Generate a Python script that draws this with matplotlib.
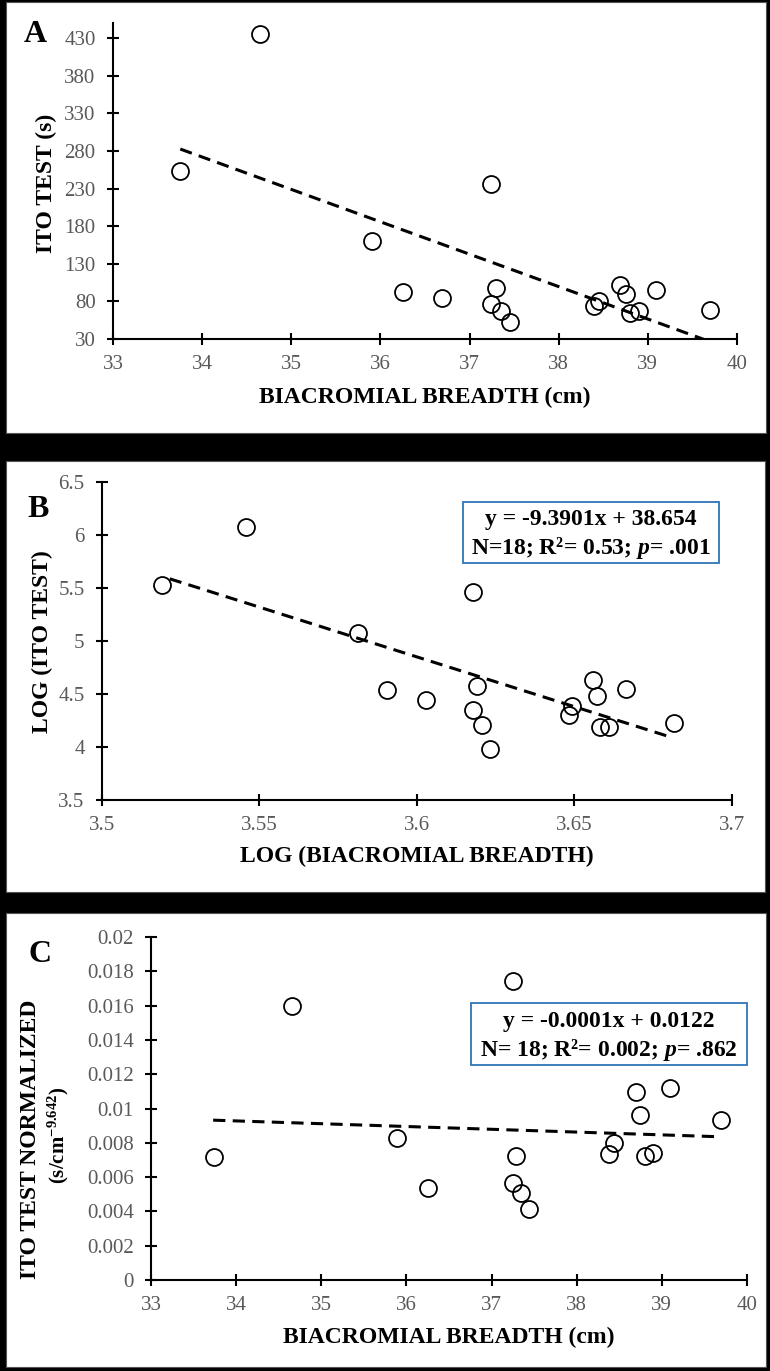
import numpy as np
import matplotlib
matplotlib.use("Agg")
import matplotlib.pyplot as plt
from matplotlib.patches import Rectangle
from matplotlib.ticker import FuncFormatter

plt.rcParams['font.family'] = ['Liberation Serif', 'DejaVu Serif']
plt.rcParams['mathtext.fontset'] = 'custom'
plt.rcParams['mathtext.rm'] = 'Liberation Serif:bold'
plt.rcParams['mathtext.bf'] = 'Liberation Serif:bold'
plt.rcParams['mathtext.it'] = 'Liberation Serif:italic:bold'

# ---------------- data ----------------
# Panel A: biacromial breadth (cm) vs ITO test (s)
breadth_a = [34.65, 33.755, 37.245, 35.90, 36.25, 36.69, 37.30, 37.245, 37.355,
             37.45, 38.40, 38.45, 38.69, 38.75, 38.80, 38.90, 39.09, 39.70]
ito_a = [435.7, 253.6, 236.0, 160.8, 92.8, 84.4, 97.2, 76.9, 66.7,
         53.0, 74.2, 80.0, 102.0, 90.0, 64.5, 66.7, 94.5, 68.0]

# Panel B: log(biacromial breadth) vs log(ITO test)
log_breadth_b = [3.5457, 3.5192, 3.6177, 3.5812, 3.5904, 3.6030, 3.6190, 3.6177, 3.6205,
                 3.6231, 3.6481, 3.6493, 3.6559, 3.6571, 3.6582, 3.6610, 3.6662, 3.6816]
log_ito_b = [6.072, 5.524, 5.458, 5.074, 4.539, 4.444, 4.576, 4.350, 4.208,
             3.978, 4.302, 4.387, 4.633, 4.485, 4.192, 4.192, 4.545, 4.223]
slope_b, intercept_b = -9.3901, 38.654
trend_b_x = [3.5215, 3.6805]

# Panel C: biacromial breadth (cm) vs normalized ITO test
breadth_c = [34.656, 33.744, 37.247, 35.891, 36.249, 37.287, 37.247, 37.345, 37.443,
             38.384, 38.441, 38.701, 38.747, 38.799, 38.892, 39.094, 39.694]
ito_norm_c = [0.01596, 0.00718, 0.01742, 0.00829, 0.00534, 0.00722, 0.00567, 0.00509, 0.00414,
              0.00732, 0.00800, 0.01095, 0.00961, 0.00722, 0.00738, 0.01120, 0.00932]
# trend line as drawn (start / end values)
trend_c_x = [33.73, 39.69]
trend_c_y = [0.00932, 0.00835]

xticks_cm = [33, 34, 35, 36, 37, 38, 39, 40]
yticks_a = [30, 80, 130, 180, 230, 280, 330, 380, 430]
xticks_b = [3.5, 3.55, 3.6, 3.65, 3.7]
yticks_b = [3.5, 4, 4.5, 5, 5.5, 6, 6.5]
yticks_c = [0, 0.002, 0.004, 0.006, 0.008, 0.01, 0.012, 0.014, 0.016, 0.018, 0.02]

# ---------------- figure ----------------
W, H = 770, 1371
fig = plt.figure(figsize=(W / 100, H / 100), dpi=100, facecolor='black')


def fx(x):
    return x / W


def fy(y):
    return 1 - y / H


def axes_px(l, t, r, b):
    return fig.add_axes([fx(l), fy(b), (r - l) / W, (b - t) / H])


# white panels
for (l, t, r, b) in [(6, 2, 766, 433), (6, 461, 765, 892), (6, 913, 766, 1367)]:
    fig.patches.append(Rectangle((fx(l), fy(b)), (r - l) / W, (b - t) / H,
                                 transform=fig.transFigure, facecolor='white',
                                 edgecolor='#555555', linewidth=0.8, zorder=-5))

TICK_GRAY = '#595959'
fmt = FuncFormatter(lambda v, p: f"{v:g}")


def style(ax):
    ax.set_facecolor('none')
    ax.set_zorder(2)
    for s in ['top', 'right']:
        ax.spines[s].set_visible(False)
    for s in ['left', 'bottom']:
        ax.spines[s].set_linewidth(1.5)
        ax.spines[s].set_color('black')
    ax.tick_params(direction='inout', length=8, width=1.5, color='black',
                   labelcolor=TICK_GRAY, labelsize=15)
    ax.tick_params(axis='y', pad=8.5)
    ax.tick_params(axis='x', pad=7.5)
    ax.xaxis.set_major_formatter(fmt)
    ax.yaxis.set_major_formatter(fmt)


mk = dict(linestyle='none', marker='o', markersize=12.2, markerfacecolor='none',
          markeredgecolor='black', markeredgewidth=1.3, zorder=3, clip_on=False)
dash = dict(color='black', linewidth=2.2, linestyle=(0, (4, 2.4)), zorder=2)

# ---- Panel A ----
axA = axes_px(113, 23, 737, 339)
style(axA)
axA.plot(breadth_a, ito_a, **mk)
pa = np.polyfit(breadth_a, ito_a, 1)
xa = np.array([min(breadth_a), max(breadth_a)])
axA.plot(xa, np.polyval(pa, xa), **dash)
axA.set_xlim(33, 40)
axA.set_ylim(30, 450)
axA.set_xticks(xticks_cm)
axA.set_yticks(yticks_a)

# ---- Panel B ----
axB = axes_px(102, 482, 732, 800)
style(axB)
axB.plot(log_breadth_b, log_ito_b, **mk)
xb = np.array(trend_b_x)
axB.plot(xb, slope_b * xb + intercept_b, **dash)
axB.set_xlim(3.5, 3.7)
axB.set_ylim(3.5, 6.5)
axB.set_xticks(xticks_b)
axB.set_yticks(yticks_b)

# ---- Panel C ----
axC = axes_px(151, 937, 747, 1280)
style(axC)
axC.plot(breadth_c, ito_norm_c, **mk)
axC.plot(trend_c_x, trend_c_y, **dash)
axC.set_xlim(33, 40)
axC.set_ylim(0, 0.02)
axC.set_xticks(xticks_cm)
axC.set_yticks(yticks_c)

# ---------------- texts ----------------
LBL = dict(fontsize=17, fontweight='bold', color='black')

fig.text(fx(425), fy(403), 'BIACROMIAL BREADTH (cm)', ha='center', va='baseline', **LBL)
fig.text(fx(417), fy(862), 'LOG (BIACROMIAL BREADTH)', ha='center', va='baseline', **LBL)
fig.text(fx(449), fy(1343), 'BIACROMIAL BREADTH (cm)', ha='center', va='baseline', **LBL)

fig.text(fx(46), fy(183), 'ITO TEST (s)', rotation=90, ha='center', va='center', **LBL)
fig.text(fx(42), fy(642), 'LOG (ITO TEST)', rotation=90, ha='center', va='center', **LBL)
fig.text(fx(31), fy(1139), 'ITO TEST NORMALIZED', rotation=90, ha='center', va='center', **LBL)
fig.text(fx(58), fy(1135), r'(s/cm$^{\mathrm{-9.642}}$)', rotation=90, ha='center', va='center',
         fontsize=15, fontweight='bold', color='black')

PANEL = dict(fontsize=23, fontweight='bold', color='black', ha='center', va='center')
fig.text(fx(35), fy(35), 'A', **PANEL)
fig.text(fx(38), fy(510), 'B', **PANEL)
fig.text(fx(40), fy(954), 'C', **PANEL)

BOX_BLUE = '#2E75B6'
for (l, t, r, b) in [(463, 502, 719, 563), (471, 1003, 747, 1065)]:
    fig.patches.append(Rectangle((fx(l), fy(b)), (r - l) / W, (b - t) / H,
                                 transform=fig.transFigure, facecolor='white',
                                 edgecolor=BOX_BLUE, linewidth=1.3, zorder=5))

BOXT = dict(fontsize=17, fontweight='bold', color='black', ha='center', va='center', zorder=6)
fig.text(fx(591), fy(520), 'y = -9.3901x + 38.654', **BOXT)
fig.text(fx(591), fy(548), 'N=18; R²= 0.53; $p$= .001', **BOXT)
fig.text(fx(609), fy(1022), 'y = -0.0001x + 0.0122', **BOXT)
fig.text(fx(609), fy(1050), 'N= 18; R²= 0.002; $p$= .862', **BOXT)

fig.savefig('out.png', dpi=100, facecolor='black')
